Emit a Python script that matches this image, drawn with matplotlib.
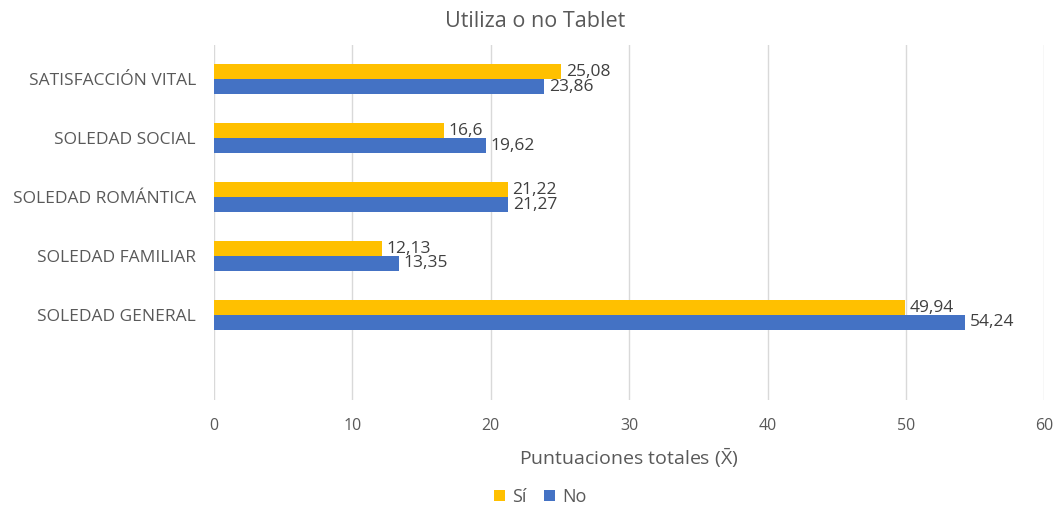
import numpy as np
import matplotlib
matplotlib.use("Agg")
import matplotlib.pyplot as plt

plt.rcParams['font.family'] = ['Open Sans', 'DejaVu Sans']
plt.rcParams['mathtext.fontset'] = 'custom'
plt.rcParams['mathtext.rm'] = 'Open Sans'

# categories listed bottom to top (empty slot at the bottom)
categorias = ["SOLEDAD GENERAL", "SOLEDAD FAMILIAR", "SOLEDAD ROMÁNTICA",
              "SOLEDAD SOCIAL", "SATISFACCIÓN VITAL"]
si = [49.94, 12.13, 21.22, 16.6, 25.08]
no = [54.24, 13.35, 21.27, 19.62, 23.86]

amarillo = "#FFC000"
azul = "#4472C4"
texto = "#595959"

fig = plt.figure(figsize=(10.57, 5.09), dpi=100)
ax = fig.add_axes([0.2025, 0.2141, 0.7855, 0.6975])

y = np.arange(len(categorias))
h = 0.25
b_si = ax.barh(y + h / 2, si, height=h, color=amarillo, label="Sí", zorder=3)
b_no = ax.barh(y - h / 2, no, height=h, color=azul, label="No", zorder=3)

def fmt(v):
    return ("%g" % v).replace(".", ",")

for barras, vals in ((b_si, si), (b_no, no)):
    for r, v in zip(barras, vals):
        ax.text(v + 0.35, r.get_y() + r.get_height() / 2, fmt(v),
                va="center", ha="left", fontsize=12.5, color="#404040", zorder=4)

ax.set_xlim(0, 60)
ax.set_ylim(-1.44, 4.58)
ax.set_xticks(np.arange(0, 61, 10))
ax.set_yticks(y)
ax.set_yticklabels(categorias, fontsize=12.5, color=texto)
ax.tick_params(axis="x", labelsize=11.5, colors=texto, length=0, pad=13)
ax.tick_params(axis="y", length=0, pad=13)
ax.grid(axis="x", color="#D9D9D9", linewidth=1, zorder=0)
for s in ax.spines.values():
    s.set_visible(False)

ax.set_xlabel(r"Puntuaciones totales ($\bar{\mathrm{X}}$)", fontsize=14,
              color=texto, labelpad=9)
fig.text(0.506, 0.957, "Utiliza o no Tablet", ha="center", va="center",
         fontsize=15.5, color=texto)

fig.legend(handles=[b_si, b_no], loc="center", bbox_to_anchor=(0.511, 0.024),
           ncol=2, frameon=False, fontsize=13, labelcolor=texto,
           handlelength=0.6, handleheight=0.6, handletextpad=0.4, columnspacing=1.0)

fig.savefig("out.png", dpi=100)
